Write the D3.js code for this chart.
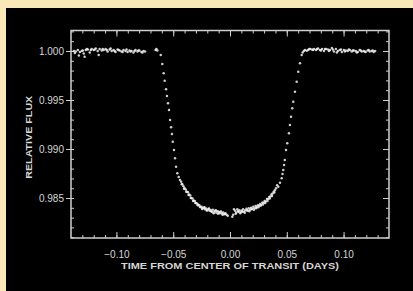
<!DOCTYPE html>
<html><head><meta charset="utf-8">
<script src="https://cdn.jsdelivr.net/npm/d3@7"></script>
<style>
html,body{margin:0;padding:0;background:#f9e8b8;}
svg{display:block;}
</style></head>
<body>
<svg id="chart" width="413" height="291"></svg>
<script>
// ---- data ----
const xMajorTicks = [-0.10, -0.05, 0.00, 0.05, 0.10];
const yMajorTicks = [0.985, 0.990, 0.995, 1.000];
const xTitle = "TIME FROM CENTER OF TRANSIT (DAYS)";
const yTitle = "RELATIVE FLUX";

const preTime = [-0.1375,-0.1358,-0.1340,-0.1322,-0.1305,-0.1288,-0.1270,-0.1252,-0.1235,-0.1218,-0.1200,-0.1182,-0.1165,-0.1148,-0.1130,-0.1112,-0.1095,-0.1078,-0.1060,-0.1042,-0.1025,-0.1008,-0.0990,-0.0972,-0.0955,-0.0938,-0.0920,-0.0902,-0.0885,-0.0868,-0.0850,-0.0832,-0.0815,-0.0798,-0.0780,-0.0762,-0.0748,
  -0.1366,-0.1331,-0.1296,-0.1261,-0.1226,-0.1191,-0.1156,-0.1121,-0.1086,-0.1051,-0.1016,-0.0981,-0.0946,-0.0911,-0.0876,-0.0841,-0.0806,-0.0771,-0.1280];
const preFlux = [1.0000,0.99995,1.0001,0.99990,1.0000,0.99975,1.0001,1.00015,0.99985,1.0002,1.0001,1.00025,1.0000,1.0002,1.00005,1.0001,1.0002,0.99995,1.00015,1.0000,1.0001,0.99990,1.00015,1.00005,0.99995,1.0001,1.0000,0.99990,1.00005,1.0000,0.99985,1.0001,0.99995,1.00005,0.99990,1.0000,0.99995,
  0.99980,0.99955,1.00005,1.0002,1.0001,1.00015,0.99960,1.0002,1.0001,1.00025,1.0000,1.0001,0.99990,1.00015,0.99995,1.0000,1.00005,0.99985,0.99940];

const ingressTime = [-0.0655,-0.0648,-0.0640,-0.0610,-0.0596,-0.0584,-0.0575,-0.0563,-0.0555,-0.0546,-0.0537,-0.0528,-0.0519,-0.0511,-0.0504,-0.0493,-0.0484,-0.0475,-0.0464,-0.0452,-0.0440];
const ingressFlux = [1.0001,1.0002,1.00005,0.99959,0.99867,0.99772,0.99697,0.99609,0.99541,0.99466,0.99398,0.99296,0.99221,0.99153,0.99074,0.98990,0.98905,0.98819,0.98752,0.98715,0.98684];

const bottomLeftTime = [-0.0430,-0.0420,-0.0410,-0.0400,-0.0390,-0.0380,-0.0370,-0.0360,-0.0350,-0.0340,-0.0330,-0.0320,-0.0310,-0.0300,-0.0290,-0.0280,-0.0270,-0.0260,-0.0250,-0.0240,-0.0230,-0.0220,-0.0210,-0.0200,-0.0190,-0.0180,-0.0170,-0.0160,-0.0150,-0.0140,-0.0130,-0.0120,-0.0110,-0.0100,-0.0090,-0.0080,-0.0070,-0.0060,-0.0050,-0.0040,-0.0030,-0.0020,
  -0.0425,-0.0405,-0.0385,-0.0365,-0.0345,-0.0325,-0.0305,-0.0285,-0.0265,-0.0245,-0.0225,-0.0205,-0.0185,-0.0165,-0.0145,-0.0125,-0.0105,-0.0085,-0.0065,-0.0045];
const bottomLeftFlux = [0.98665,0.98640,0.98620,0.98600,0.98588,0.98565,0.98560,0.98535,0.98525,0.98500,0.98495,0.98475,0.98470,0.98450,0.98445,0.98430,0.98425,0.98405,0.98412,0.98395,0.98400,0.98385,0.98392,0.98375,0.98388,0.98370,0.98378,0.98360,0.98380,0.98355,0.98370,0.98350,0.98365,0.98360,0.98345,0.98362,0.98340,0.98352,0.98335,0.98345,0.98330,0.98320,
  0.98640,0.98595,0.98565,0.98530,0.98500,0.98470,0.98450,0.98425,0.98410,0.98388,0.98405,0.98372,0.98392,0.98365,0.98345,0.98375,0.98340,0.98355,0.98330,0.98340];

const bottomRightTime = [0.0020,0.0028,0.0035,0.0045,0.0055,0.0065,0.0075,0.0085,0.0095,0.0105,0.0115,0.0125,0.0135,0.0145,0.0155,0.0165,0.0175,0.0185,0.0195,0.0205,0.0215,0.0225,0.0235,0.0245,0.0255,0.0265,0.0275,0.0285,0.0295,0.0305,0.0315,0.0325,0.0335,0.0345,0.0355,0.0365,0.0375,0.0385,0.0395,0.0405,0.0415,
  0.0050,0.0070,0.0090,0.0110,0.0130,0.0150,0.0170,0.0190,0.0210,0.0230,0.0250,0.0270,0.0290,0.0310,0.0330,0.0350,0.0370,0.0390];
const bottomRightFlux = [0.98310,0.98330,0.98385,0.98370,0.98350,0.98385,0.98360,0.98375,0.98355,0.98370,0.98385,0.98360,0.98375,0.98390,0.98370,0.98395,0.98380,0.98400,0.98390,0.98410,0.98395,0.98418,0.98405,0.98425,0.98420,0.98440,0.98430,0.98455,0.98450,0.98470,0.98465,0.98490,0.98490,0.98510,0.98515,0.98535,0.98545,0.98565,0.98580,0.98600,0.98630,
  0.98340,0.98365,0.98345,0.98360,0.98350,0.98375,0.98365,0.98385,0.98380,0.98395,0.98405,0.98420,0.98435,0.98450,0.98470,0.98495,0.98520,0.98555];

const egressTime = [0.0425,0.0440,0.0455,0.0462,0.0469,0.0476,0.0482,0.0493,0.0504,0.0519,0.0528,0.0537,0.0548,0.0557,0.0572,0.0587,0.0601,0.0616,0.0631,0.0640,0.0650,0.0660,0.0675];
const egressFlux = [0.98615,0.98655,0.98701,0.98745,0.98786,0.98838,0.98888,0.98990,0.99058,0.99160,0.99245,0.99330,0.99415,0.99483,0.99585,0.99687,0.99789,0.99874,0.99959,0.99985,1.0000,1.0001,1.00003];

const postTime = [0.0688,0.0705,0.0722,0.0740,0.0757,0.0775,0.0792,0.0810,0.0827,0.0845,0.0862,0.0880,0.0897,0.0915,0.0932,0.0950,0.0967,0.0985,0.1002,0.1020,0.1037,0.1055,0.1072,0.1090,0.1107,0.1125,0.1142,0.1160,0.1177,0.1195,0.1212,0.1230,0.1247,0.1265,0.1278,
  0.0697,0.0731,0.0766,0.0801,0.0836,0.0871,0.0906,0.0941,0.0976,0.1011,0.1046,0.1081,0.1116,0.1151,0.1186,0.1221,0.1256];
const postFlux = [1.0001,1.0002,1.00015,1.0002,1.0001,1.00025,1.0001,1.0002,1.0000,1.0002,1.00015,1.0001,1.0003,0.99995,1.0002,1.0000,1.0001,0.99990,1.0001,1.00005,1.0000,1.0001,0.99995,1.00005,1.0000,0.99990,1.0001,0.99995,1.0000,0.99990,1.00005,0.99995,1.0000,0.99990,1.0000,
  1.0002,1.0001,1.0002,1.00005,1.0002,1.0000,1.00015,0.99985,1.00015,0.99995,1.00015,1.00005,0.99985,1.00005,0.99995,1.0001,1.00005];

// ---- build ----
(function(){
const segments = [[preTime,preFlux],[ingressTime,ingressFlux],[bottomLeftTime,bottomLeftFlux],
                  [bottomRightTime,bottomRightFlux],[egressTime,egressFlux],[postTime,postFlux]];
const points = [];
segments.forEach(([t,f]) => t.forEach((v,i) => points.push({t:v, f:f[i]})));

const svg = d3.select("#chart");
const W = 413, H = 291;
const pL = 71, pR = 389, pT = 30.5, pB = 238;

svg.append("rect").attr("x",6).attr("y",8).attr("width",W-6).attr("height",H-8).attr("fill","#000");

const x = d3.scaleLinear().domain([-0.14, 0.14]).range([pL, pR]);
const y = d3.scaleLinear().domain([0.98092, 1.00209]).range([pB, pT]);

const xMinor = d3.range(-13, 14).map(d => d/100);
const yMinor = d3.range(981, 1003).map(d => d/1000);

const axisColor = "#cfcfcf";
function style(g){
  g.select(".domain").remove();
  g.selectAll(".tick line").attr("stroke", axisColor).attr("stroke-width", 1);
  g.selectAll(".tick text").attr("fill", "#d6d6d6").attr("font-family","Liberation Sans, Arial, sans-serif").attr("font-size", 10);
}

svg.append("g").attr("transform",`translate(0,${pB})`).call(d3.axisBottom(x).tickValues(xMinor).tickSize(-3).tickFormat("")).call(style);
svg.append("g").attr("transform",`translate(0,${pT})`).call(d3.axisTop(x).tickValues(xMinor).tickSize(-3).tickFormat("")).call(style);
svg.append("g").attr("transform",`translate(${pL},0)`).call(d3.axisLeft(y).tickValues(yMinor).tickSize(-3).tickFormat("")).call(style);
svg.append("g").attr("transform",`translate(${pR},0)`).call(d3.axisRight(y).tickValues(yMinor).tickSize(-3).tickFormat("")).call(style);

svg.append("g").attr("transform",`translate(0,${pB})`)
  .call(d3.axisBottom(x).tickValues(xMajorTicks).tickSize(-6).tickPadding(13).tickFormat(d3.format(".2f")))
  .call(style);
svg.append("g").attr("transform",`translate(0,${pT})`).call(d3.axisTop(x).tickValues(xMajorTicks).tickSize(-6).tickFormat("")).call(style);
svg.append("g").attr("transform",`translate(${pL},0)`)
  .call(d3.axisLeft(y).tickValues(yMajorTicks).tickSize(5).tickPadding(2).tickFormat(d3.format(".3f")))
  .call(style);
svg.append("g").attr("transform",`translate(${pR},0)`).call(d3.axisRight(y).tickValues(yMajorTicks).tickSize(-6).tickFormat("")).call(style);

svg.append("rect").attr("x",pL).attr("y",pT).attr("width",pR-pL).attr("height",pB-pT)
  .attr("fill","none").attr("stroke",axisColor).attr("stroke-width",1.5);

svg.append("g").selectAll("circle").data(points).join("circle")
  .attr("cx", d => x(d.t)).attr("cy", d => y(d.f)).attr("r", 1.25)
  .attr("fill", "#f2f2f2").attr("fill-opacity", 0.85);

svg.append("text").attr("x", (pL+pR)/2).attr("y", 269).attr("text-anchor","middle")
  .attr("fill","#d6d6d6").attr("font-family","Liberation Sans, Arial, sans-serif").attr("font-size",9.5).attr("font-weight","bold")
  .attr("textLength",218).attr("lengthAdjust","spacingAndGlyphs").text(xTitle);
svg.append("text").attr("transform",`translate(32,${(pT+pB)/2+3}) rotate(-90)`).attr("text-anchor","middle")
  .attr("fill","#d6d6d6").attr("font-family","Liberation Sans, Arial, sans-serif").attr("font-size",9.5).attr("font-weight","bold")
  .attr("textLength",83).attr("lengthAdjust","spacingAndGlyphs").text(yTitle);
})();
</script>
</body></html>
